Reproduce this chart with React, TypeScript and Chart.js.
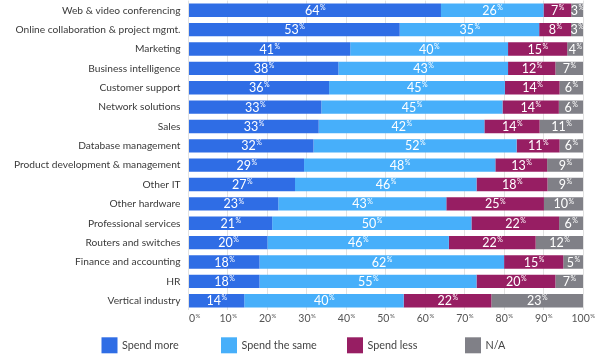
import React, { useEffect, useRef } from 'react';
import { Chart, registerables } from 'chart.js';

Chart.register(...registerables);

const categories = [
  'Web & video conferencing',
  'Online collaboration & project mgmt.',
  'Marketing',
  'Business intelligence',
  'Customer support',
  'Network solutions',
  'Sales',
  'Database management',
  'Product development & management',
  'Other IT',
  'Other hardware',
  'Professional services',
  'Routers and switches',
  'Finance and accounting',
  'HR',
  'Vertical industry',
];

const spendMore = [64, 53, 41, 38, 36, 33, 33, 32, 29, 27, 23, 21, 20, 18, 18, 14];
const spendSame = [26, 35, 40, 43, 45, 45, 42, 52, 48, 46, 43, 50, 46, 62, 55, 40];
const spendLess = [7, 8, 15, 12, 14, 14, 14, 11, 13, 18, 25, 22, 22, 15, 20, 22];
const notApplicable = [3, 3, 4, 7, 6, 6, 11, 6, 9, 9, 10, 6, 12, 5, 7, 23];

const seriesNames = ['Spend more', 'Spend the same', 'Spend less', 'N/A'];
const seriesColors = ['#2F6DE5', '#47AFFA', '#971E63', '#808087'];
const xTickValues = [0, 10, 20, 30, 40, 50, 60, 70, 80, 90, 100];

// legend layout (box left edges)
const legendBoxX = [101.5, 221, 347, 465];

const FONT = "Lato, 'Open Sans', sans-serif";

const rawSeries = [spendMore, spendSame, spendLess, notApplicable];
const rowTotals = categories.map((_, i) => rawSeries.reduce((s, arr) => s + arr[i], 0));

function drawPercent(
  ctx: CanvasRenderingContext2D,
  text: string,
  cx: number,
  cy: number,
  size: number,
  color: string,
  alignLeft = false
) {
  const supSize = Math.max(6, Math.round(size * 0.58));
  ctx.font = `${size}px ${FONT}`;
  const nw = ctx.measureText(text).width;
  ctx.font = `${supSize}px ${FONT}`;
  const pw = ctx.measureText('%').width;
  const start = alignLeft ? cx : cx - (nw + pw) / 2;
  ctx.fillStyle = color;
  ctx.textBaseline = 'middle';
  ctx.textAlign = 'left';
  ctx.font = `${size}px ${FONT}`;
  ctx.fillText(text, start, cy);
  ctx.font = `${supSize}px ${FONT}`;
  ctx.fillText('%', start + nw + 0.5, cy - size * 0.25);
}

const overlayPlugin = {
  id: 'overlay',
  afterDatasetsDraw(chart: any) {
    const ctx = chart.ctx as CanvasRenderingContext2D;
    ctx.save();
    chart.data.datasets.forEach((_ds: any, di: number) => {
      const meta = chart.getDatasetMeta(di);
      meta.data.forEach((el: any, i: number) => {
        const raw = rawSeries[di][i];
        const cx = (el.x + el.base) / 2;
        drawPercent(ctx, String(raw), cx, el.y + 0.5, 12.5, '#ffffff');
      });
    });
    ctx.restore();
  },
  afterDraw(chart: any) {
    const ctx = chart.ctx as CanvasRenderingContext2D;
    const xs = chart.scales.x;
    ctx.save();
    xTickValues.forEach((v, i) => {
      const px = xs.getPixelForValue(v);
      drawPercent(ctx, String(v), i === 0 ? px + 0.5 : px, 318.5, 10.5, '#555555', i === 0);
    });
    // legend
    const legendY = 345.3;
    const boxW = 16;
    const boxH = 16;
    seriesNames.forEach((n, i) => {
      const x = legendBoxX[i];
      ctx.fillStyle = seriesColors[i];
      ctx.fillRect(x, legendY - boxH / 2, boxW, boxH);
      ctx.fillStyle = '#444444';
      ctx.textAlign = 'left';
      ctx.textBaseline = 'middle';
      ctx.font = `10.8px ${FONT}`;
      ctx.fillText(n, x + boxW + 4.5, legendY);
    });
    ctx.restore();
  },
};

export default function App() {
  const canvasRef = useRef<HTMLCanvasElement | null>(null);

  useEffect(() => {
    document.body.style.margin = '0';
    const canvas = canvasRef.current;
    if (!canvas) return;
    const chart = new Chart(canvas, {
      type: 'bar',
      data: {
        labels: categories,
        datasets: rawSeries.map((arr, di) => ({
          label: seriesNames[di],
          data: arr.map((v, i) => (v / rowTotals[i]) * 100),
          backgroundColor: seriesColors[di],
          borderWidth: 0,
          categoryPercentage: 1,
          barPercentage: 0.69,
        })),
      },
      options: {
        indexAxis: 'y',
        animation: false,
        responsive: true,
        maintainAspectRatio: false,
        layout: { padding: { top: 0.6, right: 18, bottom: 49.6, left: 0 } },
        plugins: {
          legend: { display: false },
          tooltip: { enabled: false },
        },
        scales: {
          x: {
            stacked: true,
            min: 0,
            max: 100,
            ticks: { display: false, stepSize: 10 },
            grid: { color: '#e2e2e2', drawTicks: false, lineWidth: 1 },
            border: { display: false },
            afterFit: (s: any) => {
              s.height = 0;
              s.paddingLeft = 0;
              s.paddingRight = 0;
            },
          },
          y: {
            stacked: true,
            afterFit: (s: any) => {
              s.width = 188.5;
              s.paddingTop = 0;
              s.paddingBottom = 0;
            },
            ticks: {
              color: '#3a3a3a',
              font: { family: FONT, size: 10.2 },
              padding: 8,
            },
            grid: { display: false, drawTicks: false },
            border: { display: false },
          },
        },
      },
      plugins: [overlayPlugin],
    });
    return () => chart.destroy();
  }, []);

  return (
    <div style={{ position: 'relative', width: 601, height: 360 }}>
      <canvas ref={canvasRef} />
    </div>
  );
}
